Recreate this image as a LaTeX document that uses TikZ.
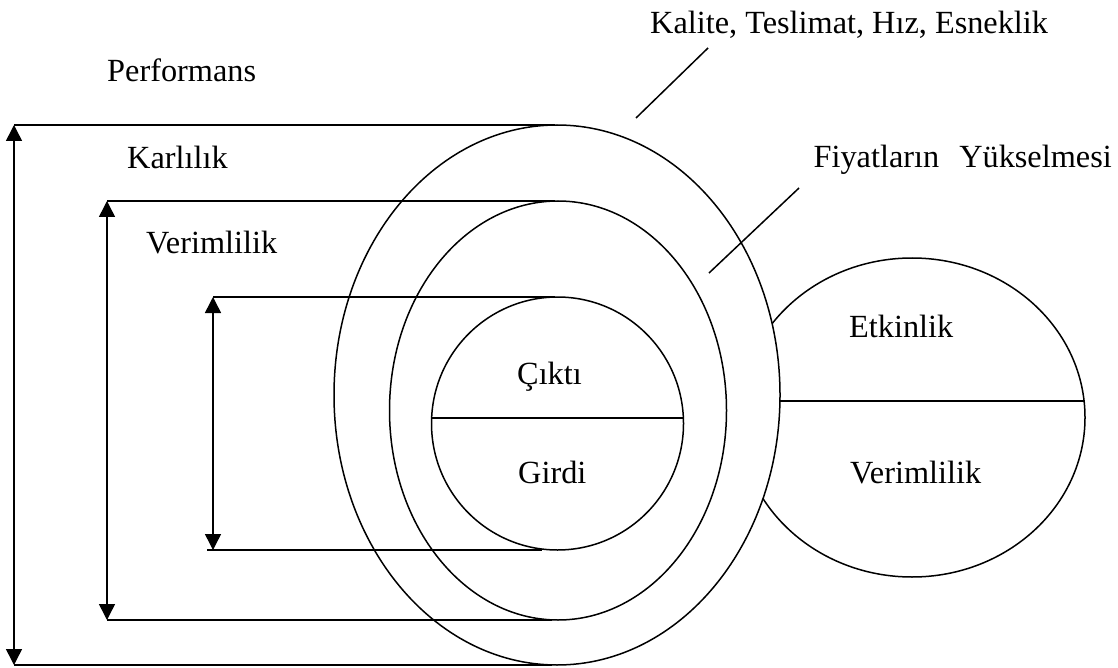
\documentclass[tikz,border=0pt]{standalone}
\usepackage{fontspec}
\setmainfont{Liberation Serif}
\usetikzlibrary{arrows.meta}
\tikzset{
  lbl/.style={inner sep=0pt, anchor=base west, font=\fontsize{32.3}{38}\selectfont},
  ln/.style={line width=1.5pt},
  dim/.style={line width=1.5pt, {Triangle[width=16pt,length=16pt]}-{Triangle[width=16pt,length=16pt]}}
}
\begin{document}
\begin{tikzpicture}[x=1pt,y=-1pt]
\useasboundingbox[fill=white] (0,0) rectangle (1118,668);

% right ellipse (partly hidden by outer ellipse)
\draw[ln] (912,417.5) ellipse [x radius=173, y radius=159.5];
% outer, middle, inner ellipses
\filldraw[ln, fill=white] (557,395) ellipse [x radius=223, y radius=270];
\draw[ln] (558,410.5) ellipse [x radius=168.5, y radius=209.5];
\draw[ln] (557.5,423.5) ellipse [x radius=126, y radius=126.5];

% named points
\coordinate (oT) at (555,125);  \coordinate (oB) at (552,665);
\coordinate (mT) at (555,201);  \coordinate (mB) at (552,620);
\coordinate (iT) at (555,297);  \coordinate (iB) at (542,550);
\coordinate (aoT) at (14,125);  \coordinate (aoB) at (14,665);
\coordinate (amT) at (107,201); \coordinate (amB) at (107,620);
\coordinate (aiT) at (213,297); \coordinate (aiB) at (213,550);
\coordinate (iBs) at (207,550);
\coordinate (icL) at (431.5,418); \coordinate (icR) at (683.5,418);
\coordinate (reL) at (780,401);  \coordinate (reR) at (1084,401);
\coordinate (d1a) at (708,48);   \coordinate (d1b) at (636,118);
\coordinate (d2a) at (799,188);  \coordinate (d2b) at (709,273);

% horizontal lines
\draw[ln] (aoT) -- (oT);
\draw[ln] (amT) -- (mT);
\draw[ln] (aiT) -- (iT);
\draw[ln] (iBs) -- (iB);
\draw[ln] (amB) -- (mB);
\draw[ln] (aoB) -- (oB);
% dimension arrows
\draw[dim] (aoT) -- (aoB);
\draw[dim] (amT) -- (amB);
\draw[dim] (aiT) -- (aiB);
% dividing lines
\draw[ln] (icL) -- (icR);
\draw[ln] (reL) -- (reR);
% pointer lines
\draw[ln] (d1a) -- (d1b);
\draw[ln] (d2a) -- (d2b);

% labels
\node[lbl] (perf) at (107,82) {Performans};
\node[lbl] (karl) at (127,169) {Karlılık};
\node[lbl] (verL) at (146,254) {Verimlilik};
\node[lbl] (cikti) at (517,384) {Çıktı};
\node[lbl] (girdi) at (518,483) {Girdi};
\node[lbl] (etk) at (849,337) {Etkinlik};
\node[lbl] (verR) at (850,483) {Verimlilik};
\node[lbl] (kal) at (650,34) {Kalite, Teslimat, Hız, Esneklik};
\node[lbl, anchor=base east] (fiy) at (1112,168) {Fiyatların\hspace*{12pt} Yükselmesi};
\end{tikzpicture}
\end{document}
